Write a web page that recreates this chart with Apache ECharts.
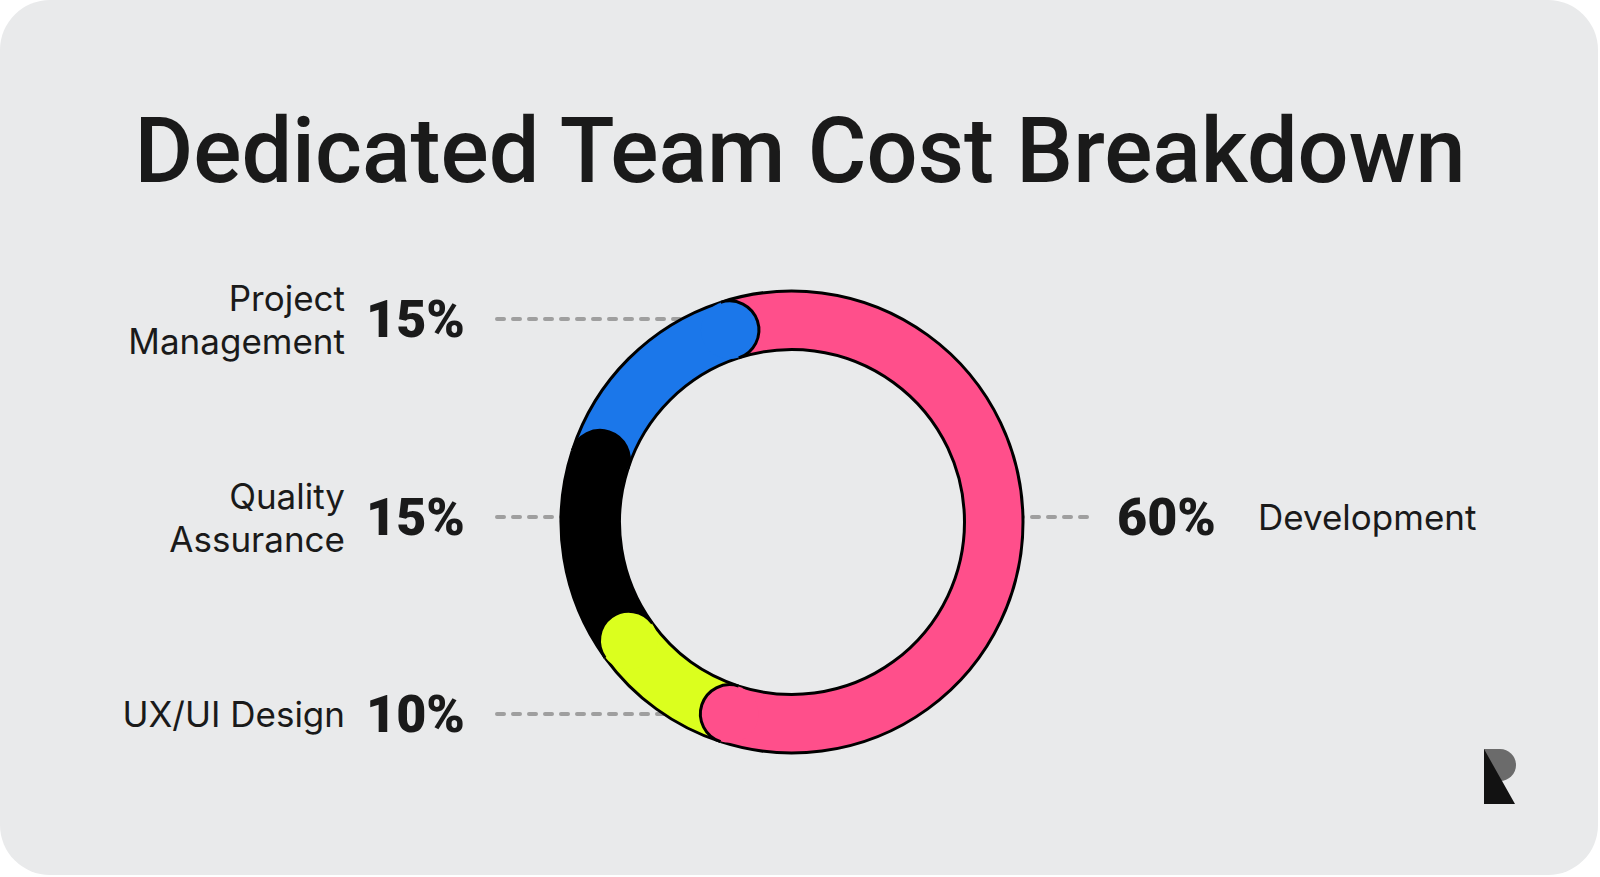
<!DOCTYPE html>
<html>
<head>
<meta charset="utf-8">
<title>Dedicated Team Cost Breakdown</title>
<script src="https://cdn.jsdelivr.net/npm/echarts@6/dist/echarts.min.js"></script>
<style>
  html, body { margin: 0; padding: 0; background: #ffffff; }
  #chart { width: 1600px; height: 877px; }
</style>
</head>
<body>
<div id="chart"></div>
<script>
// slices in clockwise order, starting at the top junction
var categories = ['Development', 'UX/UI Design', 'Quality Assurance', 'Project Management'];
var shares = [60, 10, 15, 15];
var colors = ['#ff4f8b', '#dbff1e', '#000000', '#1b77ea'];

// label layout (kept apart from the data)
var nameText = ['Development', 'UX/UI Design', 'Quality\nAssurance', 'Project\nManagement'];
var labelY = [517, 714, 517, 319];
var labelSide = ['right', 'left', 'left', 'left'];

var ringCenter = [792, 522];
var ringRadius = [172.5, 231];

var segments = [];
var acc = 0;
shares.forEach(function (v) {
    segments.push([acc, acc + v]);
    acc += v;
});

function toAngle(api, cs, value) {
    var p = api.coord([1, value]);
    return Math.atan2(p[1] - cs.cy, p[0] - cs.cx);
}

var outline = { stroke: '#000', lineWidth: 3, fill: 'none' };

function renderSlice(params, api) {
    var cs = params.coordSys;
    var a0 = toAngle(api, cs, api.value(0));
    var a1 = toAngle(api, cs, api.value(1));
    while (a1 <= a0) a1 += Math.PI * 2;
    var arc = function (r) {
        return {
            type: 'arc',
            shape: { cx: cs.cx, cy: cs.cy, r: r, startAngle: a0, endAngle: a1, clockwise: true },
            style: outline
        };
    };
    return {
        type: 'group',
        children: [{
            type: 'sector',
            shape: { cx: cs.cx, cy: cs.cy, r0: cs.r0, r: cs.r, startAngle: a0, endAngle: a1, clockwise: true },
            style: { fill: colors[params.dataIndex] }
        }, arc(cs.r), arc(cs.r0)]
    };
}

// rounded end of each slice, laid over the start of the next one
function renderCap(params, api) {
    var cs = params.coordSys;
    var a1 = toAngle(api, cs, api.value(1));
    var c = api.coord([0.5, api.value(1)]);
    var capR = (cs.r - cs.r0) / 2;
    return {
        type: 'group',
        children: [{
            type: 'circle',
            shape: { cx: c[0], cy: c[1], r: capR - 0.5 },
            style: { fill: colors[params.dataIndex] }
        }, {
            type: 'arc',
            shape: { cx: c[0], cy: c[1], r: capR, startAngle: a1, endAngle: a1 + Math.PI, clockwise: true },
            style: outline
        }]
    };
}

var labelFont = 'Inter, "Noto Sans", sans-serif';
var numberFont = 'Roboto, Inter, sans-serif';
var graphics = [{
    type: 'rect',
    shape: { x: 0, y: 0, width: 1598, height: 875, r: 50 },
    style: { fill: '#e9eaeb' },
    z: 0
}];

categories.forEach(function (name, i) {
    var y = labelY[i];
    var dy = y - ringCenter[1];
    var reach = Math.sqrt(ringRadius[1] * ringRadius[1] - dy * dy);
    var left = labelSide[i] === 'left';
    graphics.push({
        type: 'line',
        shape: left
            ? { x1: 497, y1: y, x2: ringCenter[0] - reach + 20, y2: y }
            : { x1: 1087, y1: y, x2: ringCenter[0] + reach - 20, y2: y },
        style: { stroke: '#9f9f9f', lineWidth: 4, lineDash: [7, 9], lineCap: 'round' },
        z: 1
    });
    graphics.push({
        type: 'text',
        x: left ? 465 : 1117,
        y: y,
        style: {
            text: shares[i] + '%',
            font: '900 52px ' + numberFont,
            fill: '#1a1a1a',
            align: left ? 'right' : 'left',
            verticalAlign: 'middle'
        },
        z: 1
    });
    graphics.push({
        type: 'text',
        x: left ? 345 : 1258,
        y: y,
        style: {
            text: nameText[i],
            font: '400 35px ' + labelFont,
            lineHeight: 43,
            fill: '#1a1a1a',
            align: left ? 'right' : 'left',
            verticalAlign: 'middle'
        },
        z: 1
    });
});

// logo mark
graphics.push({
    type: 'rect',
    shape: { x: 1484, y: 749, width: 32, height: 32, r: [0, 16, 16, 0] },
    style: { fill: '#6b6b6b' },
    z: 1
});
graphics.push({
    type: 'polygon',
    shape: { points: [[1484, 749], [1484, 804], [1515, 804]] },
    style: { fill: '#121212' },
    z: 1
});

var chart = echarts.init(document.getElementById('chart'), null, { renderer: 'svg' });
chart.setOption({
    backgroundColor: '#ffffff',
    animation: false,
    title: {
        text: 'Dedicated Team Cost Breakdown',
        left: 'center',
        top: 101,
        textStyle: {
            fontFamily: 'Roboto, Inter, sans-serif',
            fontWeight: 500,
            fontSize: 90,
            color: '#1a1a1a'
        }
    },
    graphic: graphics,
    polar: { center: ringCenter, radius: ringRadius },
    angleAxis: {
        type: 'value', min: 0, max: 100, startAngle: 108, clockwise: true,
        axisLine: { show: false }, axisTick: { show: false },
        axisLabel: { show: false }, splitLine: { show: false }
    },
    radiusAxis: {
        type: 'value', min: 0, max: 1,
        axisLine: { show: false }, axisTick: { show: false },
        axisLabel: { show: false }, splitLine: { show: false }
    },
    series: [{
        name: 'slices',
        type: 'custom',
        coordinateSystem: 'polar',
        renderItem: renderSlice,
        data: segments,
        z: 2
    }, {
        name: 'caps',
        type: 'custom',
        coordinateSystem: 'polar',
        renderItem: renderCap,
        data: segments,
        z: 3
    }]
});
</script>
</body>
</html>
